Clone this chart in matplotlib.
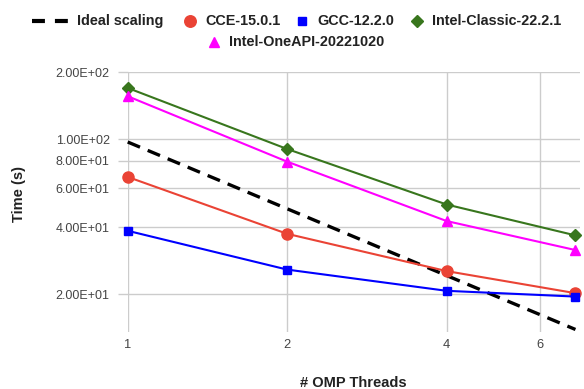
import matplotlib
matplotlib.use("Agg")
import matplotlib.pyplot as plt
from matplotlib.lines import Line2D
from matplotlib.ticker import FixedLocator, NullLocator, FuncFormatter

plt.rcParams['font.family'] = ['Liberation Sans', 'DejaVu Sans']

threads = [1, 2, 4, 7]
ideal = [97.0, 48.5, 24.25, 13.86]
cce = [67.5, 37.4, 25.4, 20.2]
gcc = [38.6, 25.8, 20.7, 19.5]
intel_classic = [170, 90.2, 50.7, 36.8]
intel_oneapi = [156, 79.1, 42.7, 31.6]

series_names = ['Ideal scaling', 'CCE-15.0.1', 'GCC-12.2.0',
                'Intel-Classic-22.2.1', 'Intel-OneAPI-20221020']
yticks = [20, 40, 60, 80, 100, 200]
xticks = [1, 2, 4, 6]

W, H = 584, 389
fig = plt.figure(figsize=(W / 100, H / 100), dpi=100)
left, right, top, bottom = 127.7, 580, 72.3, 332
ax = fig.add_axes([left / W, 1 - bottom / H, (right - left) / W, (bottom - top) / H])
ax.set_xscale('log')
ax.set_yscale('log')
ax.set_xlim(1, 7.14)
ax.set_ylim(13.5, 200)

grid_c = '#cccccc'
ax.yaxis.set_major_locator(FixedLocator(yticks))
ax.yaxis.set_minor_locator(NullLocator())
ax.xaxis.set_major_locator(FixedLocator(xticks))
ax.xaxis.set_minor_locator(NullLocator())
ax.yaxis.set_major_formatter(FuncFormatter(lambda v, p: f"{v:.2E}"))
ax.xaxis.set_major_formatter(FuncFormatter(lambda v, p: f"{int(v)}"))
ax.grid(True, which='major', color=grid_c, linewidth=1.0)
ax.tick_params(axis='y', length=7, color=grid_c, width=1.0, pad=6, labelsize=9, labelcolor='#444444')
ax.tick_params(axis='x', length=0, pad=5, labelsize=9.3, labelcolor='#444444')
for s in ax.spines.values():
    s.set_visible(False)

colors = ['black', '#ea4335', '#0000ff', '#38761d', '#ff00ff']
ax.plot(threads, ideal, color=colors[0], linestyle=(0, (4, 2.5)), linewidth=2.4, zorder=3, clip_on=False)
ax.plot(threads, cce, color=colors[1], marker='o', markersize=8, linewidth=1.5, zorder=4, clip_on=False)
ax.plot(threads, gcc, color=colors[2], marker='s', markersize=6, linewidth=1.5, zorder=4, clip_on=False)
ax.plot(threads, intel_classic, color=colors[3], marker='D', markersize=6, linewidth=1.5, zorder=4, clip_on=False)
ax.plot(threads, intel_oneapi, color=colors[4], marker='^', markersize=7, linewidth=1.5, zorder=4, clip_on=False)


def fx(px):
    return px / W


def fy(py):
    return 1 - py / H


fig.text(fx(353), fy(383), '# OMP Threads', fontsize=10.5, fontweight='bold',
         color='#222222', ha='center', va='center')
fig.text(fx(19), fy(194), 'Time (s)', fontsize=10.5, fontweight='bold',
         color='#222222', ha='center', va='center', rotation=90)

# legend (manual)
leg_font = dict(fontsize=10.4, fontweight='bold', color='#222222', va='center', ha='left')
r1, r2 = 21, 41.7
fig.add_artist(Line2D([fx(32), fx(68)], [fy(r1), fy(r1)], transform=fig.transFigure,
                      color=colors[0], linewidth=3, linestyle=(0, (3.1, 2.4)),
                      solid_capstyle='butt', dash_capstyle='butt'))
fig.text(fx(77), fy(r1), series_names[0], **leg_font)
fig.add_artist(Line2D([fx(190)], [fy(r1)], transform=fig.transFigure, color=colors[1],
                      marker='o', markersize=8.3, linestyle='none'))
fig.text(fx(205), fy(r1), series_names[1], **leg_font)
fig.add_artist(Line2D([fx(302)], [fy(r1)], transform=fig.transFigure, color=colors[2],
                      marker='s', markersize=5.3, linestyle='none'))
fig.text(fx(317), fy(r1), series_names[2], **leg_font)
fig.add_artist(Line2D([fx(417)], [fy(r1)], transform=fig.transFigure, color=colors[3],
                      marker='D', markersize=6, linestyle='none'))
fig.text(fx(432), fy(r1), series_names[3], **leg_font)
fig.add_artist(Line2D([fx(214)], [fy(r2)], transform=fig.transFigure, color=colors[4],
                      marker='^', markersize=7, linestyle='none'))
fig.text(fx(229), fy(r2), series_names[4], **leg_font)

fig.savefig('out.png', dpi=100)
